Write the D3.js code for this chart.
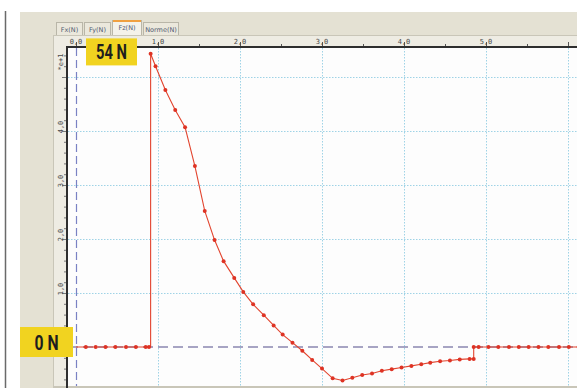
<!DOCTYPE html>
<html>
<head>
<meta charset="utf-8">
<script src="https://cdn.jsdelivr.net/npm/d3@7.9.0/dist/d3.min.js"></script>
<style>
  html, body { margin: 0; padding: 0; background: #fff; }
  svg { display: block; }
</style>
</head>
<body>
<svg id="chart" width="577" height="388"></svg>
<script>
// force sensor trace, Fz in newtons, time in seconds
const times = [0.00, 0.12, 0.24, 0.36, 0.48, 0.61, 0.73, 0.85, 0.89, 0.91,
  0.91, 0.97, 1.09, 1.21, 1.33, 1.45, 1.57, 1.69, 1.80, 1.93, 2.04, 2.16,
  2.29, 2.41, 2.52, 2.64, 2.76, 2.88, 3.00, 3.13, 3.25, 3.37, 3.49, 3.61,
  3.73, 3.85, 3.97, 4.09, 4.21, 4.32, 4.44, 4.56, 4.68, 4.80, 4.85,
  4.85, 4.91, 5.03, 5.15, 5.28, 5.40, 5.52, 5.64, 5.76, 5.89, 6.01, 6.13];
const forces = [0, 0, 0, 0, 0, 0, 0, 0, 0, 0,
  54.3, 52.0, 47.6, 43.9, 40.7, 33.5, 25.2, 19.8, 15.9, 12.8, 10.2, 7.9,
  5.9, 4.0, 2.3, 0.8, -0.7, -2.4, -4.0, -5.8, -6.2, -5.7, -5.2, -4.9,
  -4.4, -4.1, -3.8, -3.5, -3.2, -2.9, -2.65, -2.5, -2.3, -2.2, -2.2,
  0, 0, 0, 0, 0, 0, 0, 0, 0, 0, 0, 0];
const hidden = [0, 9]; // indices drawn without a dot (under the dashed axis / at the step foot)

const xTicks = [0, 1, 2, 3, 4, 5, 6];
const xTickLabels = ["0,0", "1,0", "2,0", "3,0", "4,0", "5,0", ""];
const yTicks = [10, 20, 30, 40, 50];
const yTickLabels = ["1,0", "2,0", "3,0", "4,0", ""];
const tabs = ["Fx(N)", "Fy(N)", "Fz(N)", "Norme(N)"];
const callouts = [
  { text: "54 N", value: 54 },
  { text: "0 N", value: 0 }
];

const svg = d3.select("#chart");

const x = d3.scaleLinear().domain([0, 6]).range([76, 568]);
const y = d3.scaleLinear().domain([0, 50]).range([347, 77]);

// page frame
svg.append("rect").attr("width", 577).attr("height", 388).attr("fill", "#fff");
svg.append("line")
  .attr("x1", 5.5).attr("x2", 5.5).attr("y1", 11).attr("y2", 388)
  .attr("stroke", "#6a6a6a").attr("stroke-width", 1.5);
svg.append("rect")
  .attr("x", 20).attr("y", 12).attr("width", 557).attr("height", 376)
  .attr("fill", "#e4e1d3");

// tabs
const tabX = [56, 84, 112, 143];
const tabW = [26, 26, 29, 35];
tabs.forEach((t, i) => {
  const sel = i === 2;
  svg.append("rect")
    .attr("x", tabX[i] + 0.5).attr("y", sel ? 20.5 : 22.5)
    .attr("width", tabW[i]).attr("height", sel ? 15 : 13)
    .attr("fill", sel ? "#f4f2ea" : "#ebe8dc")
    .attr("stroke", "#b9b6a8").attr("stroke-width", 1);
  if (sel) {
    svg.append("line")
      .attr("x1", tabX[i] + 1).attr("x2", tabX[i] + tabW[i])
      .attr("y1", 21).attr("y2", 21)
      .attr("stroke", "#f0a040").attr("stroke-width", 2);
  }
  svg.append("text")
    .attr("x", tabX[i] + tabW[i] / 2 + 0.5).attr("y", sel ? 30 : 31.5)
    .attr("text-anchor", "middle")
    .attr("font-family", "DejaVu Sans, sans-serif").attr("font-size", 6.5)
    .attr("fill", "#505a70")
    .text(t);
});

// chart panel and axis strips
svg.append("rect")
  .attr("x", 53.5).attr("y", 35.5).attr("width", 524).attr("height", 352)
  .attr("fill", "#eeece3").attr("stroke", "#c9c6b8");
svg.append("rect")
  .attr("x", 67).attr("y", 47).attr("width", 510).attr("height", 339)
  .attr("fill", "#fdfdfd");
svg.append("line")
  .attr("x1", 54).attr("x2", 577).attr("y1", 386.5).attr("y2", 386.5)
  .attr("stroke", "#c9c6b8");

const plot = svg.append("g");
svg.append("clipPath").attr("id", "clip")
  .append("rect").attr("x", 68).attr("y", 48).attr("width", 509).attr("height", 338);
plot.attr("clip-path", "url(#clip)");

// grid
plot.selectAll(".vgrid").data(xTicks.slice(1)).join("line")
  .attr("x1", d => x(d) + 0.5).attr("x2", d => x(d) + 0.5)
  .attr("y1", 48).attr("y2", 386)
  .attr("stroke", "#9fd3e6").attr("stroke-width", 1)
  .attr("stroke-dasharray", "1.5,1.5");
plot.selectAll(".hgrid").data(yTicks).join("line")
  .attr("x1", 68).attr("x2", 577)
  .attr("y1", d => y(d) + 0.5).attr("y2", d => y(d) + 0.5)
  .attr("stroke", "#9fd3e6").attr("stroke-width", 1)
  .attr("stroke-dasharray", "1.5,1.5");

// zero reference lines
plot.append("line")
  .attr("x1", x(0) + 0.5).attr("x2", x(0) + 0.5).attr("y1", 48).attr("y2", 386)
  .attr("stroke", "#7a82c4").attr("stroke-width", 1.2)
  .attr("stroke-dasharray", "8,4");
plot.append("line")
  .attr("x1", 68).attr("x2", 577).attr("y1", y(0)).attr("y2", y(0))
  .attr("stroke", "#8a86b0").attr("stroke-width", 1.5)
  .attr("stroke-dasharray", "10,5");

// data
const pts = times.map((t, i) => [t, forces[i]]);
plot.append("path")
  .datum(pts)
  .attr("d", d3.line().x(d => x(d[0])).y(d => y(d[1])))
  .attr("fill", "none").attr("stroke", "#e2442e").attr("stroke-width", 1.1);
plot.selectAll(".dot").data(pts.filter((d, i) => !hidden.includes(i))).join("circle")
  .attr("cx", d => x(d[0])).attr("cy", d => y(d[1])).attr("r", 2)
  .attr("fill", "#de3324");

// axes
svg.append("line")
  .attr("x1", 67).attr("x2", 577).attr("y1", 47).attr("y2", 47)
  .attr("stroke", "#2e2e2e").attr("stroke-width", 2);
svg.append("line")
  .attr("x1", 67).attr("x2", 67).attr("y1", 46).attr("y2", 388)
  .attr("stroke", "#2e2e2e").attr("stroke-width", 2);

const xMinor = d3.range(0, 6.6, 0.5);
svg.selectAll(".xtick").data(xMinor).join("line")
  .attr("x1", d => x(d) + 0.5).attr("x2", d => x(d) + 0.5)
  .attr("y1", d => d % 1 === 0 ? 42 : 44).attr("y2", 46)
  .attr("stroke", "#555").attr("stroke-width", 1);
svg.selectAll(".xlab").data(xTicks).join("text")
  .attr("x", d => x(d)).attr("y", 44)
  .attr("text-anchor", "middle")
  .attr("font-family", "DejaVu Sans Mono, monospace").attr("font-size", 7)
  .attr("fill", "#4a4a4a")
  .text((d, i) => xTickLabels[i]);

const yMinor = d3.range(-6, 56, 2);
svg.selectAll(".ytick").data(yMinor).join("line")
  .attr("x1", d => d % 10 === 0 ? 62 : 64).attr("x2", 66)
  .attr("y1", d => y(d) + 0.5).attr("y2", d => y(d) + 0.5)
  .attr("stroke", "#777").attr("stroke-width", 1);
svg.selectAll(".ylab").data(yTicks).join("text")
  .attr("transform", d => `translate(61,${y(d) - 4}) rotate(-90)`)
  .attr("text-anchor", "middle").attr("dy", "0.35em")
  .attr("font-family", "DejaVu Sans Mono, monospace").attr("font-size", 7)
  .attr("fill", "#4a4a4a")
  .text((d, i) => yTickLabels[i]);
svg.append("text")
  .attr("transform", "translate(61,62) rotate(-90)")
  .attr("text-anchor", "middle").attr("dy", "0.35em")
  .attr("font-family", "DejaVu Sans Mono, monospace").attr("font-size", 7)
  .attr("fill", "#4a4a4a")
  .text("*e+1");

// callouts
const boxes = [
  { x: 86, y: y(callouts[0].value) - 17, w: 51, h: 27, len: 31 },
  { x: 20, y: y(callouts[1].value) - 20, w: 53, h: 30, len: 24 }
];
callouts.forEach((c, i) => {
  const b = boxes[i];
  svg.append("rect")
    .attr("x", b.x).attr("y", b.y).attr("width", b.w).attr("height", b.h)
    .attr("fill", "#f1d320");
  svg.append("text")
    .attr("x", b.x + b.w / 2).attr("y", b.y + b.h / 2)
    .attr("dy", "0.36em").attr("text-anchor", "middle")
    .attr("font-family", "Roboto, sans-serif")
    .attr("font-weight", "bold").attr("font-size", 21)
    .attr("textLength", b.len).attr("lengthAdjust", "spacingAndGlyphs")
    .attr("fill", "#1e1e1e")
    .text(c.text);
});
</script>
</body>
</html>
